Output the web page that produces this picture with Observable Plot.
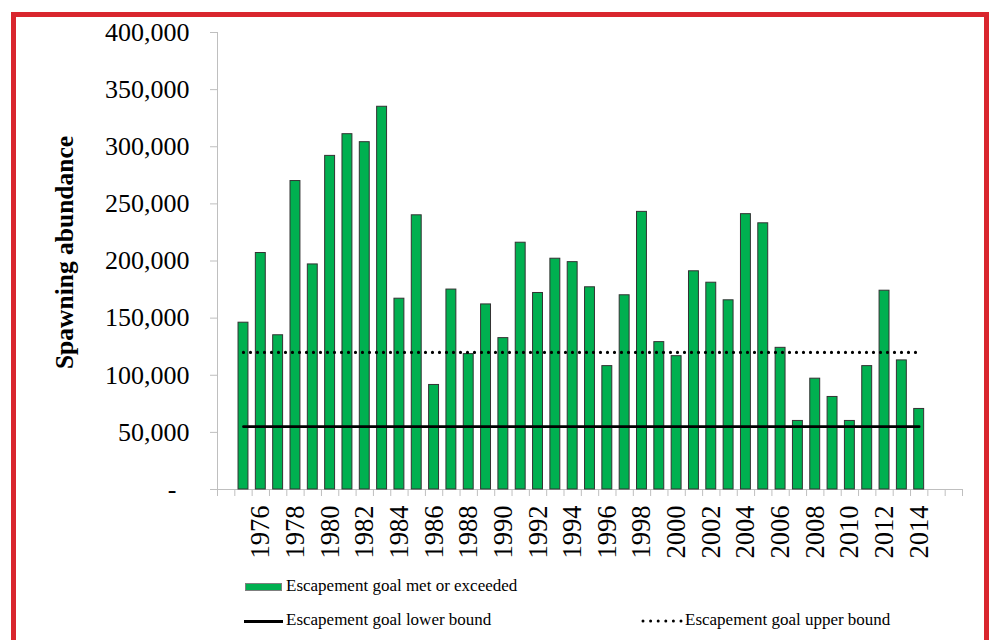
<!DOCTYPE html>
<html><head><meta charset="utf-8">
<script src="https://cdn.jsdelivr.net/npm/d3@7"></script>
<script src="https://cdn.jsdelivr.net/npm/@observablehq/plot@0.6"></script>
<style>
body{margin:0;background:#fff;width:990px;height:640px;overflow:hidden;position:relative;font-family:"Liberation Serif","Times New Roman",serif;}
#frame{position:absolute;left:11px;top:12px;width:978px;height:700px;border:5px solid #d9262e;box-sizing:border-box;pointer-events:none;}
#chart{position:absolute;left:0;top:0;}
.leg{position:absolute;font-size:17px;line-height:17px;color:#000;white-space:nowrap;}
</style></head><body>
<div id="chart"></div>
<div id="legend"></div>
<div id="frame"></div>
<script>
const years = [1975,1976,1977,1978,1979,1980,1981,1982,1983,1984,
  1985,1986,1987,1988,1989,1990,1991,1992,1993,1994,
  1995,1996,1997,1998,1999,2000,2001,2002,2003,2004,
  2005,2006,2007,2008,2009,2010,2011,2012,2013,2014];
const abundance = [146000,207000,135000,270000,197000,292000,311000,304000,335000,167000,
  240000,91500,175000,118500,162000,132500,216000,172000,202000,199000,
  177000,108000,170000,243000,129000,116700,191000,181000,165600,241000,
  233000,124000,60000,97000,81000,60000,108000,174000,113000,70500];
const lowerBound = 55000;
const upperBound = 120000;
// category axis runs from one blank slot before 1975 to two blank slots after 2014
const firstSlot = 1974, lastSlot = 2016;
const xTickLabels = [1976,1978,1980,1982,1984,1986,1988,1990,1992,1994,
  1996,1998,2000,2002,2004,2006,2008,2010,2012,2014];
const yTicks = [0,50000,100000,150000,200000,250000,300000,350000,400000];
const yTitle = "Spawning abundance";
const legendLabels = ["Escapement goal met or exceeded","Escapement goal lower bound","Escapement goal upper bound"];

const W = 990, H = 570, mL = 217, mR = 28, mT = 32, mB = 81;
const gray = "#bfbfbf";
const font = "'Liberation Serif','Times New Roman',serif";
const data = years.map((year, i) => ({year, value: abundance[i]}));
const ends = [years[0], years[years.length - 1]];
const boundaries = d3.range(firstSlot - 0.5, lastSlot + 1, 1);

const plot = Plot.plot({
  width: W, height: H,
  marginLeft: mL, marginRight: mR, marginTop: mT, marginBottom: mB,
  style: {fontFamily: font, fontSize: "26px", background: "transparent", color: "#000"},
  x: {type: "linear", domain: [firstSlot - 0.5, lastSlot + 0.5]},
  y: {domain: [0, 400000]},
  marks: [
    Plot.frame({anchor: "left", stroke: gray}),
    Plot.ruleY([0], {stroke: gray}),
    Plot.rectY(data, {x1: d => d.year - 0.5, x2: d => d.year + 0.5, y1: 0, y2: "value",
      insetLeft: 3.7, insetRight: 3.7, fill: "#00b050", stroke: "#333", strokeWidth: 1}),
    Plot.lineY(ends, {x: d => d, y: () => lowerBound, stroke: "#000", strokeWidth: 2.7}),
    Plot.lineY(ends, {x: d => d, y: () => upperBound, stroke: "#000", strokeWidth: 3.2, strokeDasharray: "0,7", strokeLinecap: "round"}),
    Plot.axisY({ticks: yTicks, tickSize: 7, tickPadding: 21, fontSize: 26, stroke: gray, fill: "#000", label: null,
      tickFormat: d => d === 0 ? "-\u00a0\u00a0" : d3.format(",")(d)}),
    Plot.axisX({ticks: boundaries, tickSize: 7, tickFormat: () => "", stroke: gray, label: null}),
    Plot.axisX({ticks: xTickLabels, tickSize: 0, tickPadding: 16, tickRotate: -90, fontSize: 26.5, fill: "#000", label: null,
      tickFormat: d => String(d)}),
    Plot.text([yTitle], {text: d => d, frameAnchor: "left", textAnchor: "middle", dx: -153, dy: -8.5, rotate: -90,
      fontSize: 25.5, fontWeight: "bold", fill: "#000"})
  ]
});
document.getElementById("chart").append(plot);

const leg = document.getElementById("legend");
leg.innerHTML = `
<div style="position:absolute;left:245px;top:583px;width:35px;height:6px;background:#00b050;border:1px solid #7f7f7f;"></div>
<div class="leg" style="left:286px;top:576.5px;">${legendLabels[0]}</div>
<div style="position:absolute;left:244px;top:619.5px;width:39px;height:3px;background:#000;"></div>
<div class="leg" style="left:286px;top:610.7px;">${legendLabels[1]}</div>
<svg style="position:absolute;left:641px;top:618px;" width="44" height="6"><line x1="2" y1="3" x2="41" y2="3" stroke="#000" stroke-width="3" stroke-linecap="round" stroke-dasharray="0,7.6"/></svg>
<div class="leg" style="left:685px;top:610.7px;">${legendLabels[2]}</div>`;
</script>
</body></html>
